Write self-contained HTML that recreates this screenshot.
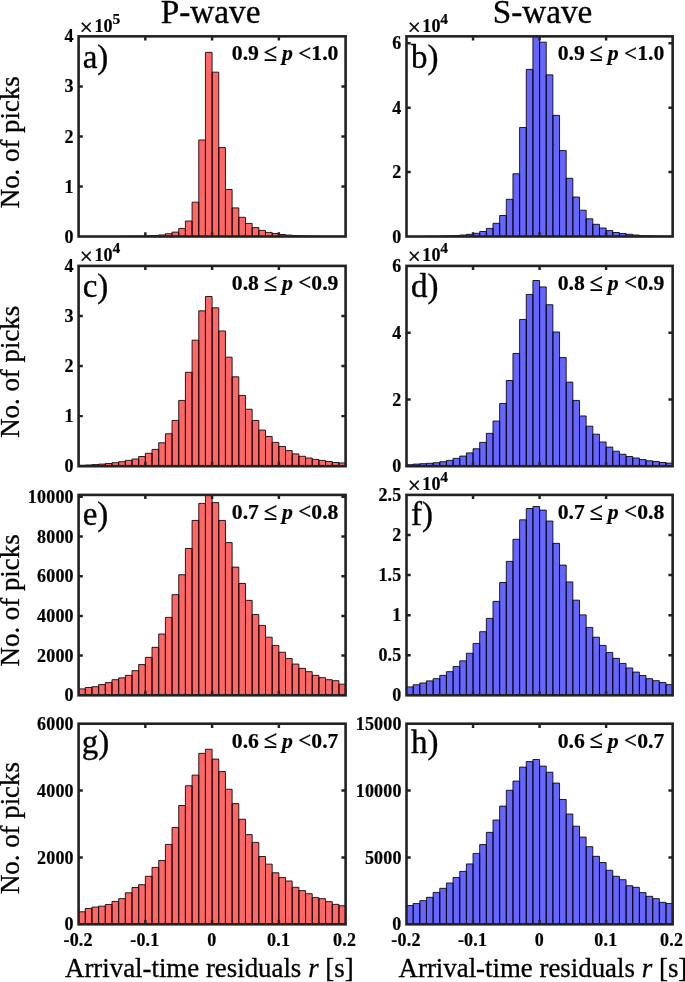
<!DOCTYPE html>
<html lang="en"><head><meta charset="utf-8"><title>Arrival-time residual histograms</title>
<style>html,body{margin:0;padding:0;background:#fff}svg{display:block;will-change:transform;opacity:0.999}text{font-family:"Liberation Serif","Times New Roman",Times,serif;fill:#000}.b{font-weight:bold}.t{font-weight:bold;font-size:18px;letter-spacing:0.2px}.an{font-weight:bold;font-size:21.7px}.lb{font-size:33px;stroke:#000;stroke-width:.35px}.ax{font-size:26.85px;stroke:#000;stroke-width:.3px}.tt{stroke:#000;stroke-width:.35px}.t,.an{stroke:#000;stroke-width:.2px}</style></head><body>
<svg width="685" height="982" viewBox="0 0 685 982">
<rect width="685" height="982" fill="#fff"/>
<text class="tt" x="210.6" y="23.2" text-anchor="middle" style="font-size:33.2px">P-wave</text>
<text class="tt" x="542.5" y="23.2" text-anchor="middle" style="font-size:33.2px">S-wave</text>
<g>
<clipPath id="cpa"><rect x="78.60" y="36.35" width="267.00" height="200.15"/></clipPath>
<path clip-path="url(#cpa)" d="M118.65 236.50V236.30H125.32V236.50ZM125.32 236.50V236.20H132.00V236.50ZM132.00 236.50V236.10H138.68V236.50ZM138.67 236.50V236.00H145.35V236.50ZM145.35 236.50V235.80H152.03V236.50ZM152.02 236.50V235.50H158.70V236.50ZM158.70 236.50V234.90H165.38V236.50ZM165.38 236.50V233.70H172.05V236.50ZM172.05 236.50V232.10H178.73V236.50ZM178.72 236.50V228.40H185.40V236.50ZM185.40 236.50V221.00H192.07V236.50ZM192.07 236.50V202.19H198.75V236.50ZM198.75 236.50V139.98H205.43V236.50ZM205.43 236.50V52.35H212.10V236.50ZM212.10 236.50V72.16H218.78V236.50ZM218.77 236.50V147.58H225.45V236.50ZM225.45 236.50V189.49H232.12V236.50ZM232.12 236.50V207.89H238.80V236.50ZM238.80 236.50V217.30H245.47V236.50ZM245.47 236.50V223.40H252.15V236.50ZM252.15 236.50V227.60H258.82V236.50ZM258.82 236.50V230.40H265.50V236.50ZM265.50 236.50V232.40H272.18V236.50ZM272.17 236.50V233.50H278.85V236.50ZM278.85 236.50V234.50H285.53V236.50ZM285.52 236.50V235.10H292.20V236.50ZM292.20 236.50V235.50H298.88V236.50ZM298.88 236.50V235.80H305.55V236.50ZM305.55 236.50V236.00H312.22V236.50ZM312.23 236.50V236.10H318.90V236.50ZM318.90 236.50V236.20H325.57V236.50ZM325.57 236.50V236.30H332.25V236.50ZM332.25 236.50V236.30H338.93V236.50ZM338.92 236.50V236.40H345.60V236.50Z" fill="#ff6666" stroke="#000" stroke-width="0.85" stroke-linejoin="miter"/>
<path d="M145.35 236.50v-4.20M145.35 36.35v4.20M212.10 236.50v-4.20M212.10 36.35v4.20M278.85 236.50v-4.20M278.85 36.35v4.20M78.60 186.46h4.20M345.60 186.46h-4.20M78.60 136.43h4.20M345.60 136.43h-4.20M78.60 86.39h4.20M345.60 86.39h-4.20" stroke="#222222" stroke-width="2.47" fill="none"/>
<rect x="78.60" y="36.35" width="267.00" height="200.15" fill="none" stroke="#222222" stroke-width="2.60"/>
<text class="t" x="73.60" y="242.60" text-anchor="end">0</text>
<text class="t" x="73.60" y="192.56" text-anchor="end">1</text>
<text class="t" x="73.60" y="142.53" text-anchor="end">2</text>
<text class="t" x="73.60" y="92.49" text-anchor="end">3</text>
<text class="t" x="73.60" y="42.45" text-anchor="end">4</text>
<text x="79.80" y="35.05" style="font-size:23px" stroke="#000" stroke-width="0.45">×</text>
<text class="t" x="94.40" y="31.85">10<tspan dx="-0.4" dy="-8.3" style="font-size:15.5px">5</tspan></text>
<text class="lb" x="82.70" y="68.05">a)</text>
<text class="an" x="338.40" y="60.15" text-anchor="end">0.9 <tspan dx="-0.6" dy="0.8" style="font-size:24.5px">≤</tspan> <tspan dx="-0.7" dy="-0.8" style="font-style:italic">p</tspan> <tspan dy="0.6" style="font-size:23px">&lt;</tspan><tspan dy="-0.6">1.0</tspan></text>
</g>
<g>
<clipPath id="cpb"><rect x="406.50" y="36.35" width="266.15" height="200.15"/></clipPath>
<path clip-path="url(#cpb)" d="M426.46 236.50V236.30H433.12V236.50ZM433.12 236.50V236.20H439.77V236.50ZM439.77 236.50V236.00H446.42V236.50ZM446.42 236.50V235.80H453.08V236.50ZM453.08 236.50V235.50H459.73V236.50ZM459.73 236.50V235.00H466.38V236.50ZM466.38 236.50V234.30H473.04V236.50ZM473.04 236.50V233.30H479.69V236.50ZM479.69 236.50V231.50H486.34V236.50ZM486.35 236.50V228.40H493.00V236.50ZM493.00 236.50V223.30H499.65V236.50ZM499.65 236.50V215.49H506.31V236.50ZM506.31 236.50V199.29H512.96V236.50ZM512.96 236.50V173.78H519.61V236.50ZM519.61 236.50V127.47H526.27V236.50ZM526.27 236.50V69.36H532.92V236.50ZM532.92 236.50V33.45H539.57V236.50ZM539.58 236.50V42.15H546.23V236.50ZM546.23 236.50V74.86H552.88V236.50ZM552.88 236.50V115.37H559.54V236.50ZM559.54 236.50V150.58H566.19V236.50ZM566.19 236.50V178.29H572.84V236.50ZM572.84 236.50V197.09H579.50V236.50ZM579.50 236.50V210.19H586.15V236.50ZM586.15 236.50V218.80H592.80V236.50ZM592.80 236.50V224.30H599.46V236.50ZM599.46 236.50V228.00H606.11V236.50ZM606.11 236.50V230.60H612.77V236.50ZM612.77 236.50V232.50H619.42V236.50ZM619.42 236.50V233.50H626.07V236.50ZM626.07 236.50V234.30H632.73V236.50ZM632.73 236.50V235.00H639.38V236.50ZM639.38 236.50V235.50H646.03V236.50ZM646.03 236.50V235.80H652.69V236.50ZM652.69 236.50V236.00H659.34V236.50ZM659.34 236.50V236.10H666.00V236.50ZM666.00 236.50V236.20H672.65V236.50Z" fill="#6666ff" stroke="#000" stroke-width="0.85" stroke-linejoin="miter"/>
<path d="M473.04 236.50v-4.20M473.04 36.35v4.20M539.58 236.50v-4.20M539.58 36.35v4.20M606.11 236.50v-4.20M606.11 36.35v4.20M406.50 172.08h4.20M672.65 172.08h-4.20M406.50 107.67h4.20M672.65 107.67h-4.20M406.50 43.25h4.20M672.65 43.25h-4.20" stroke="#222222" stroke-width="2.47" fill="none"/>
<rect x="406.50" y="36.35" width="266.15" height="200.15" fill="none" stroke="#222222" stroke-width="2.60"/>
<text class="t" x="401.50" y="242.60" text-anchor="end">0</text>
<text class="t" x="401.50" y="178.18" text-anchor="end">2</text>
<text class="t" x="401.50" y="113.77" text-anchor="end">4</text>
<text class="t" x="401.50" y="49.35" text-anchor="end">6</text>
<text x="407.70" y="35.05" style="font-size:23px" stroke="#000" stroke-width="0.45">×</text>
<text class="t" x="422.30" y="31.85">10<tspan dx="-0.4" dy="-8.3" style="font-size:15.5px">4</tspan></text>
<text class="lb" x="411.00" y="68.05">b)</text>
<text class="an" x="664.25" y="60.15" text-anchor="end">0.9 <tspan dx="-0.6" dy="0.8" style="font-size:24.5px">≤</tspan> <tspan dx="-0.7" dy="-0.8" style="font-style:italic">p</tspan> <tspan dy="0.6" style="font-size:23px">&lt;</tspan><tspan dy="-0.6">1.0</tspan></text>
</g>
<g>
<clipPath id="cpc"><rect x="78.60" y="265.90" width="267.00" height="200.30"/></clipPath>
<path clip-path="url(#cpc)" d="M78.60 466.20V465.30H85.27V466.20ZM85.27 466.20V465.00H91.95V466.20ZM91.95 466.20V464.60H98.62V466.20ZM98.62 466.20V464.10H105.30V466.20ZM105.30 466.20V463.50H111.97V466.20ZM111.97 466.20V462.70H118.65V466.20ZM118.65 466.20V461.70H125.32V466.20ZM125.32 466.20V460.39H132.00V466.20ZM132.00 466.20V458.99H138.68V466.20ZM138.67 466.20V456.49H145.35V466.20ZM145.35 466.20V453.29H152.03V466.20ZM152.02 466.20V449.38H158.70V466.20ZM158.70 466.20V442.78H165.38V466.20ZM165.38 466.20V433.77H172.05V466.20ZM172.05 466.20V420.45H178.73V466.20ZM178.72 466.20V400.43H185.40V466.20ZM185.40 466.20V372.31H192.07V466.20ZM192.07 466.20V340.17H198.75V466.20ZM198.75 466.20V310.84H205.43V466.20ZM205.43 466.20V296.53H212.10V466.20ZM212.10 466.20V307.84H218.78V466.20ZM218.77 466.20V330.96H225.45V466.20ZM225.45 466.20V357.19H232.12V466.20ZM232.12 466.20V376.81H238.80V466.20ZM238.80 466.20V395.43H245.47V466.20ZM245.47 466.20V409.24H252.15V466.20ZM252.15 466.20V420.45H258.82V466.20ZM258.82 466.20V430.06H265.50V466.20ZM265.50 466.20V436.47H272.18V466.20ZM272.17 466.20V442.38H278.85V466.20ZM278.85 466.20V446.48H285.53V466.20ZM285.52 466.20V450.58H292.20V466.20ZM292.20 466.20V453.89H298.88V466.20ZM298.88 466.20V456.29H305.55V466.20ZM305.55 466.20V457.99H312.22V466.20ZM312.23 466.20V459.39H318.90V466.20ZM318.90 466.20V460.39H325.57V466.20ZM325.57 466.20V461.50H332.25V466.20ZM332.25 466.20V462.50H338.93V466.20ZM338.92 466.20V462.90H345.60V466.20Z" fill="#ff6666" stroke="#000" stroke-width="0.85" stroke-linejoin="miter"/>
<path d="M145.35 466.20v-4.20M145.35 265.90v4.20M212.10 466.20v-4.20M212.10 265.90v4.20M278.85 466.20v-4.20M278.85 265.90v4.20M78.60 416.12h4.20M345.60 416.12h-4.20M78.60 366.05h4.20M345.60 366.05h-4.20M78.60 315.97h4.20M345.60 315.97h-4.20" stroke="#222222" stroke-width="2.47" fill="none"/>
<rect x="78.60" y="265.90" width="267.00" height="200.30" fill="none" stroke="#222222" stroke-width="2.60"/>
<text class="t" x="73.60" y="472.30" text-anchor="end">0</text>
<text class="t" x="73.60" y="422.23" text-anchor="end">1</text>
<text class="t" x="73.60" y="372.15" text-anchor="end">2</text>
<text class="t" x="73.60" y="322.07" text-anchor="end">3</text>
<text class="t" x="73.60" y="272.00" text-anchor="end">4</text>
<text x="79.80" y="263.90" style="font-size:23px" stroke="#000" stroke-width="0.45">×</text>
<text class="t" x="94.40" y="261.40">10<tspan dx="-0.4" dy="-8.9" style="font-size:15.5px">4</tspan></text>
<text class="lb" x="82.70" y="296.50">c)</text>
<text class="an" x="338.40" y="289.70" text-anchor="end">0.8 <tspan dx="-0.6" dy="0.8" style="font-size:24.5px">≤</tspan> <tspan dx="-0.7" dy="-0.8" style="font-style:italic">p</tspan> <tspan dy="0.6" style="font-size:23px">&lt;</tspan><tspan dy="-0.6">0.9</tspan></text>
</g>
<g>
<clipPath id="cpd"><rect x="406.50" y="265.90" width="266.15" height="200.30"/></clipPath>
<path clip-path="url(#cpd)" d="M406.50 466.20V464.70H413.15V466.20ZM413.15 466.20V464.10H419.81V466.20ZM419.81 466.20V463.70H426.46V466.20ZM426.46 466.20V463.30H433.12V466.20ZM433.12 466.20V462.70H439.77V466.20ZM439.77 466.20V461.70H446.42V466.20ZM446.42 466.20V460.39H453.08V466.20ZM453.08 466.20V458.39H459.73V466.20ZM459.73 466.20V456.09H466.38V466.20ZM466.38 466.20V452.89H473.04V466.20ZM473.04 466.20V448.78H479.69V466.20ZM479.69 466.20V442.38H486.34V466.20ZM486.35 466.20V433.37H493.00V466.20ZM493.00 466.20V421.05H499.65V466.20ZM499.65 466.20V403.44H506.31V466.20ZM506.31 466.20V380.51H512.96V466.20ZM512.96 466.20V353.49H519.61V466.20ZM519.61 466.20V319.45H526.27V466.20ZM526.27 466.20V294.43H532.92V466.20ZM532.92 466.20V280.51H539.57V466.20ZM539.58 466.20V286.92H546.23V466.20ZM546.23 466.20V304.74H552.88V466.20ZM552.88 466.20V331.97H559.54V466.20ZM559.54 466.20V357.59H566.19V466.20ZM566.19 466.20V382.12H572.84V466.20ZM572.84 466.20V400.43H579.50V466.20ZM579.50 466.20V415.95H586.15V466.20ZM586.15 466.20V426.16H592.80V466.20ZM592.80 466.20V434.17H599.46V466.20ZM599.46 466.20V441.98H606.11V466.20ZM606.11 466.20V447.08H612.77V466.20ZM612.77 466.20V451.19H619.42V466.20ZM619.42 466.20V454.29H626.07V466.20ZM626.07 466.20V456.49H632.73V466.20ZM632.73 466.20V457.99H639.38V466.20ZM639.38 466.20V459.59H646.03V466.20ZM646.03 466.20V460.79H652.69V466.20ZM652.69 466.20V461.50H659.34V466.20ZM659.34 466.20V462.50H666.00V466.20ZM666.00 466.20V463.10H672.65V466.20Z" fill="#6666ff" stroke="#000" stroke-width="0.85" stroke-linejoin="miter"/>
<path d="M473.04 466.20v-4.20M473.04 265.90v4.20M539.58 466.20v-4.20M539.58 265.90v4.20M606.11 466.20v-4.20M606.11 265.90v4.20M406.50 399.43h4.20M672.65 399.43h-4.20M406.50 332.67h4.20M672.65 332.67h-4.20" stroke="#222222" stroke-width="2.47" fill="none"/>
<rect x="406.50" y="265.90" width="266.15" height="200.30" fill="none" stroke="#222222" stroke-width="2.60"/>
<text class="t" x="401.50" y="472.30" text-anchor="end">0</text>
<text class="t" x="401.50" y="405.53" text-anchor="end">2</text>
<text class="t" x="401.50" y="338.77" text-anchor="end">4</text>
<text class="t" x="401.50" y="272.00" text-anchor="end">6</text>
<text x="407.70" y="263.90" style="font-size:23px" stroke="#000" stroke-width="0.45">×</text>
<text class="t" x="422.30" y="261.40">10<tspan dx="-0.4" dy="-8.9" style="font-size:15.5px">4</tspan></text>
<text class="lb" x="411.00" y="296.50">d)</text>
<text class="an" x="664.25" y="289.70" text-anchor="end">0.8 <tspan dx="-0.6" dy="0.8" style="font-size:24.5px">≤</tspan> <tspan dx="-0.7" dy="-0.8" style="font-style:italic">p</tspan> <tspan dy="0.6" style="font-size:23px">&lt;</tspan><tspan dy="-0.6">0.9</tspan></text>
</g>
<g>
<clipPath id="cpe"><rect x="78.60" y="494.90" width="267.00" height="200.40"/></clipPath>
<path clip-path="url(#cpe)" d="M78.60 695.30V688.89H85.27V695.30ZM85.27 695.30V687.49H91.95V695.30ZM91.95 695.30V686.69H98.62V695.30ZM98.62 695.30V684.58H105.30V695.30ZM105.30 695.30V682.58H111.97V695.30ZM111.97 695.30V679.68H118.65V695.30ZM118.65 695.30V677.87H125.32V695.30ZM125.32 695.30V675.37H132.00V695.30ZM132.00 695.30V670.66H138.68V695.30ZM138.67 695.30V664.55H145.35V695.30ZM145.35 695.30V657.34H152.03V695.30ZM152.02 695.30V647.33H158.70V695.30ZM158.70 695.30V634.01H165.38V695.30ZM165.38 695.30V617.38H172.05V695.30ZM172.05 695.30V594.65H178.73V695.30ZM178.72 695.30V574.72H185.40V695.30ZM185.40 695.30V548.48H192.07V695.30ZM192.07 695.30V520.44H198.75V695.30ZM198.75 695.30V503.41H205.43V695.30ZM205.43 695.30V494.90H212.10V695.30ZM212.10 695.30V502.61H218.78V695.30ZM218.77 695.30V520.44H225.45V695.30ZM225.45 695.30V542.57H232.12V695.30ZM232.12 695.30V567.11H238.80V695.30ZM238.80 695.30V583.53H245.47V695.30ZM245.47 695.30V600.36H252.15V695.30ZM252.15 695.30V614.48H258.82V695.30ZM258.82 695.30V625.40H265.50V695.30ZM265.50 695.30V637.21H272.18V695.30ZM272.17 695.30V645.43H278.85V695.30ZM278.85 695.30V652.24H285.53V695.30ZM285.52 695.30V658.54H292.20V695.30ZM292.20 695.30V664.05H298.88V695.30ZM298.88 695.30V668.36H305.55V695.30ZM305.55 695.30V671.66H312.22V695.30ZM312.23 695.30V675.37H318.90V695.30ZM318.90 695.30V677.67H325.57V695.30ZM325.57 695.30V679.68H332.25V695.30ZM332.25 695.30V680.68H338.93V695.30ZM338.92 695.30V684.18H345.60V695.30Z" fill="#ff6666" stroke="#000" stroke-width="0.85" stroke-linejoin="miter"/>
<path d="M145.35 695.30v-4.20M145.35 494.90v4.20M212.10 695.30v-4.20M212.10 494.90v4.20M278.85 695.30v-4.20M278.85 494.90v4.20M78.60 655.60h4.20M345.60 655.60h-4.20M78.60 615.90h4.20M345.60 615.90h-4.20M78.60 576.20h4.20M345.60 576.20h-4.20M78.60 536.50h4.20M345.60 536.50h-4.20M78.60 496.80h4.20M345.60 496.80h-4.20" stroke="#222222" stroke-width="2.47" fill="none"/>
<rect x="78.60" y="494.90" width="267.00" height="200.40" fill="none" stroke="#222222" stroke-width="2.60"/>
<text class="t" x="73.60" y="701.40" text-anchor="end">0</text>
<text class="t" x="73.80" y="661.70" text-anchor="end">2000</text>
<text class="t" x="73.80" y="622.00" text-anchor="end">4000</text>
<text class="t" x="73.80" y="582.30" text-anchor="end">6000</text>
<text class="t" x="73.80" y="542.60" text-anchor="end">8000</text>
<text class="t" x="73.80" y="502.90" text-anchor="end">10000</text>
<text class="lb" x="82.70" y="525.10">e)</text>
<text class="an" x="338.40" y="518.70" text-anchor="end">0.7 <tspan dx="-0.6" dy="0.8" style="font-size:24.5px">≤</tspan> <tspan dx="-0.7" dy="-0.8" style="font-style:italic">p</tspan> <tspan dy="0.6" style="font-size:23px">&lt;</tspan><tspan dy="-0.6">0.8</tspan></text>
</g>
<g>
<clipPath id="cpf"><rect x="406.50" y="494.90" width="266.15" height="200.40"/></clipPath>
<path clip-path="url(#cpf)" d="M406.50 695.30V686.89H413.15V695.30ZM413.15 695.30V684.78H419.81V695.30ZM419.81 695.30V682.98H426.46V695.30ZM426.46 695.30V680.88H433.12V695.30ZM433.12 695.30V678.68H439.77V695.30ZM439.77 695.30V675.37H446.42V695.30ZM446.42 695.30V671.66H453.08V695.30ZM453.08 695.30V666.56H459.73V695.30ZM459.73 695.30V660.85H466.38V695.30ZM466.38 695.30V653.24H473.04V695.30ZM473.04 695.30V643.42H479.69V695.30ZM479.69 695.30V631.70H486.34V695.30ZM486.35 695.30V618.38H493.00V695.30ZM493.00 695.30V601.36H499.65V695.30ZM499.65 695.30V582.53H506.31V695.30ZM506.31 695.30V561.40H512.96V695.30ZM512.96 695.30V539.27H519.61V695.30ZM519.61 695.30V519.84H526.27V695.30ZM526.27 695.30V508.52H532.92V695.30ZM532.92 695.30V506.52H539.57V695.30ZM539.58 695.30V510.12H546.23V695.30ZM546.23 695.30V521.04H552.88V695.30ZM552.88 695.30V543.37H559.54V695.30ZM559.54 695.30V565.11H566.19V695.30ZM566.19 695.30V581.93H572.84V695.30ZM572.84 695.30V600.16H579.50V695.30ZM579.50 695.30V614.88H586.15V695.30ZM586.15 695.30V627.40H592.80V695.30ZM592.80 695.30V637.21H599.46V695.30ZM599.46 695.30V645.43H606.11V695.30ZM606.11 695.30V652.44H612.77V695.30ZM612.77 695.30V658.34H619.42V695.30ZM619.42 695.30V663.45H626.07V695.30ZM626.07 695.30V667.96H632.73V695.30ZM632.73 695.30V672.07H639.38V695.30ZM639.38 695.30V675.57H646.03V695.30ZM646.03 695.30V678.68H652.69V695.30ZM652.69 695.30V680.68H659.34V695.30ZM659.34 695.30V682.58H666.00V695.30ZM666.00 695.30V684.58H672.65V695.30Z" fill="#6666ff" stroke="#000" stroke-width="0.85" stroke-linejoin="miter"/>
<path d="M473.04 695.30v-4.20M473.04 494.90v4.20M539.58 695.30v-4.20M539.58 494.90v4.20M606.11 695.30v-4.20M606.11 494.90v4.20M406.50 655.22h4.20M672.65 655.22h-4.20M406.50 615.14h4.20M672.65 615.14h-4.20M406.50 575.06h4.20M672.65 575.06h-4.20M406.50 534.98h4.20M672.65 534.98h-4.20" stroke="#222222" stroke-width="2.47" fill="none"/>
<rect x="406.50" y="494.90" width="266.15" height="200.40" fill="none" stroke="#222222" stroke-width="2.60"/>
<text class="t" x="401.50" y="701.40" text-anchor="end">0</text>
<text class="t" x="401.50" y="661.32" text-anchor="end">0.5</text>
<text class="t" x="401.50" y="621.24" text-anchor="end">1</text>
<text class="t" x="401.50" y="581.16" text-anchor="end">1.5</text>
<text class="t" x="401.50" y="541.08" text-anchor="end">2</text>
<text class="t" x="401.50" y="501.00" text-anchor="end">2.5</text>
<text x="407.70" y="492.90" style="font-size:23px" stroke="#000" stroke-width="0.45">×</text>
<text class="t" x="422.30" y="490.40">10<tspan dx="-0.4" dy="-8.9" style="font-size:15.5px">4</tspan></text>
<text class="lb" x="411.00" y="525.10">f)</text>
<text class="an" x="664.25" y="518.70" text-anchor="end">0.7 <tspan dx="-0.6" dy="0.8" style="font-size:24.5px">≤</tspan> <tspan dx="-0.7" dy="-0.8" style="font-style:italic">p</tspan> <tspan dy="0.6" style="font-size:23px">&lt;</tspan><tspan dy="-0.6">0.8</tspan></text>
</g>
<g>
<clipPath id="cpg"><rect x="78.60" y="723.70" width="267.00" height="200.60"/></clipPath>
<path clip-path="url(#cpg)" d="M78.60 924.30V911.77H85.27V924.30ZM85.27 924.30V908.46H91.95V924.30ZM91.95 924.30V907.06H98.62V924.30ZM98.62 924.30V906.15H105.30V924.30ZM105.30 924.30V904.55H111.97V924.30ZM111.97 924.30V901.44H118.65V924.30ZM118.65 924.30V898.64H125.32V924.30ZM125.32 924.30V892.82H132.00V924.30ZM132.00 924.30V887.51H138.68V924.30ZM138.67 924.30V884.70H145.35V924.30ZM145.35 924.30V876.28H152.03V924.30ZM152.02 924.30V867.46H158.70V924.30ZM158.70 924.30V860.44H165.38V924.30ZM165.38 924.30V844.40H172.05V924.30ZM172.05 924.30V827.46H178.73V924.30ZM178.72 924.30V805.50H185.40V924.30ZM185.40 924.30V785.75H192.07V924.30ZM192.07 924.30V775.13H198.75V924.30ZM198.75 924.30V753.37H205.43V924.30ZM205.43 924.30V749.26H212.10V924.30ZM212.10 924.30V759.09H218.78V924.30ZM218.77 924.30V771.62H225.45V924.30ZM225.45 924.30V789.26H232.12V924.30ZM232.12 924.30V803.60H238.80V924.30ZM238.80 924.30V819.24H245.47V924.30ZM245.47 924.30V834.58H252.15V924.30ZM252.15 924.30V842.40H258.82V924.30ZM258.82 924.30V856.53H265.50V924.30ZM265.50 924.30V864.15H272.18V924.30ZM272.17 924.30V872.77H278.85V924.30ZM278.85 924.30V877.48H285.53V924.30ZM285.52 924.30V880.99H292.20V924.30ZM292.20 924.30V887.31H298.88V924.30ZM298.88 924.30V890.62H305.55V924.30ZM305.55 924.30V893.72H312.22V924.30ZM312.23 924.30V897.63H318.90V924.30ZM318.90 924.30V898.64H325.57V924.30ZM325.57 924.30V901.64H332.25V924.30ZM332.25 924.30V904.35H338.93V924.30ZM338.92 924.30V905.75H345.60V924.30Z" fill="#ff6666" stroke="#000" stroke-width="0.85" stroke-linejoin="miter"/>
<path d="M145.35 924.30v-4.20M145.35 723.70v4.20M212.10 924.30v-4.20M212.10 723.70v4.20M278.85 924.30v-4.20M278.85 723.70v4.20M78.60 857.43h4.20M345.60 857.43h-4.20M78.60 790.57h4.20M345.60 790.57h-4.20" stroke="#222222" stroke-width="2.47" fill="none"/>
<rect x="78.60" y="723.70" width="267.00" height="200.60" fill="none" stroke="#222222" stroke-width="2.60"/>
<text class="t" x="73.60" y="930.40" text-anchor="end">0</text>
<text class="t" x="73.80" y="863.53" text-anchor="end">2000</text>
<text class="t" x="73.80" y="796.67" text-anchor="end">4000</text>
<text class="t" x="73.80" y="729.80" text-anchor="end">6000</text>
<text class="lb" x="81.70" y="752.70">g)</text>
<text class="an" x="338.40" y="747.50" text-anchor="end">0.6 <tspan dx="-0.6" dy="0.8" style="font-size:24.5px">≤</tspan> <tspan dx="-0.7" dy="-0.8" style="font-style:italic">p</tspan> <tspan dy="0.6" style="font-size:23px">&lt;</tspan><tspan dy="-0.6">0.7</tspan></text>
</g>
<g>
<clipPath id="cph"><rect x="406.50" y="723.70" width="266.15" height="200.60"/></clipPath>
<path clip-path="url(#cph)" d="M406.50 924.30V905.55H413.15V924.30ZM413.15 924.30V903.55H419.81V924.30ZM419.81 924.30V900.64H426.46V924.30ZM426.46 924.30V897.33H433.12V924.30ZM433.12 924.30V892.42H439.77V924.30ZM439.77 924.30V888.31H446.42V924.30ZM446.42 924.30V883.00H453.08V924.30ZM453.08 924.30V877.48H459.73V924.30ZM459.73 924.30V871.37H466.38V924.30ZM466.38 924.30V863.95H473.04V924.30ZM473.04 924.30V853.42H479.69V924.30ZM479.69 924.30V844.60H486.34V924.30ZM486.35 924.30V832.37H493.00V924.30ZM493.00 924.30V820.04H499.65V924.30ZM499.65 924.30V806.11H506.31V924.30ZM506.31 924.30V790.27H512.96V924.30ZM512.96 924.30V781.04H519.61V924.30ZM519.61 924.30V767.11H526.27V924.30ZM526.27 924.30V761.59H532.92V924.30ZM532.92 924.30V759.49H539.57V924.30ZM539.58 924.30V766.11H546.23V924.30ZM546.23 924.30V772.22H552.88V924.30ZM552.88 924.30V783.05H559.54V924.30ZM559.54 924.30V799.49H566.19V924.30ZM566.19 924.30V814.03H572.84V924.30ZM572.84 924.30V826.16H579.50V924.30ZM579.50 924.30V837.08H586.15V924.30ZM586.15 924.30V846.71H592.80V924.30ZM592.80 924.30V856.33H599.46V924.30ZM599.46 924.30V862.55H606.11V924.30ZM606.11 924.30V870.27H612.77V924.30ZM612.77 924.30V876.28H619.42V924.30ZM619.42 924.30V879.69H626.07V924.30ZM626.07 924.30V885.70H632.73V924.30ZM632.73 924.30V887.31H639.38V924.30ZM639.38 924.30V892.62H646.03V924.30ZM646.03 924.30V896.33H652.69V924.30ZM652.69 924.30V898.64H659.34V924.30ZM659.34 924.30V902.35H666.00V924.30ZM666.00 924.30V903.55H672.65V924.30Z" fill="#6666ff" stroke="#000" stroke-width="0.85" stroke-linejoin="miter"/>
<path d="M473.04 924.30v-4.20M473.04 723.70v4.20M539.58 924.30v-4.20M539.58 723.70v4.20M606.11 924.30v-4.20M606.11 723.70v4.20M406.50 857.43h4.20M672.65 857.43h-4.20M406.50 790.57h4.20M672.65 790.57h-4.20" stroke="#222222" stroke-width="2.47" fill="none"/>
<rect x="406.50" y="723.70" width="266.15" height="200.60" fill="none" stroke="#222222" stroke-width="2.60"/>
<text class="t" x="401.50" y="930.40" text-anchor="end">0</text>
<text class="t" x="401.70" y="863.53" text-anchor="end">5000</text>
<text class="t" x="401.70" y="796.67" text-anchor="end">10000</text>
<text class="t" x="401.70" y="729.80" text-anchor="end">15000</text>
<text class="lb" x="411.00" y="752.70">h)</text>
<text class="an" x="664.25" y="747.50" text-anchor="end">0.6 <tspan dx="-0.6" dy="0.8" style="font-size:24.5px">≤</tspan> <tspan dx="-0.7" dy="-0.8" style="font-style:italic">p</tspan> <tspan dy="0.6" style="font-size:23px">&lt;</tspan><tspan dy="-0.6">0.7</tspan></text>
</g>
<text class="t" x="78.10" y="945.70" text-anchor="middle">-0.2</text>
<text class="t" x="144.85" y="945.70" text-anchor="middle">-0.1</text>
<text class="t" x="211.90" y="945.70" text-anchor="middle">0</text>
<text class="t" x="278.65" y="945.70" text-anchor="middle">0.1</text>
<text class="t" x="344.60" y="945.70" text-anchor="middle">0.2</text>
<text class="t" x="406.00" y="945.70" text-anchor="middle">-0.2</text>
<text class="t" x="472.54" y="945.70" text-anchor="middle">-0.1</text>
<text class="t" x="539.38" y="945.70" text-anchor="middle">0</text>
<text class="t" x="605.91" y="945.70" text-anchor="middle">0.1</text>
<text class="t" x="671.65" y="945.70" text-anchor="middle">0.2</text>
<text class="ax" x="65.0" y="977.1">Arrival-time residuals <tspan dx="0.2" style="font-style:italic">r</tspan> [s]</text>
<text class="ax" x="398.6" y="977.1">Arrival-time residuals <tspan dx="0.2" style="font-style:italic">r</tspan> [s]</text>
<text class="ax" text-anchor="middle" transform="translate(19.3 142.2) rotate(-90)">No. of picks</text>
<text class="ax" text-anchor="middle" transform="translate(19.3 371.8) rotate(-90)">No. of picks</text>
<text class="ax" text-anchor="middle" transform="translate(19.3 600.4) rotate(-90)">No. of picks</text>
<text class="ax" text-anchor="middle" transform="translate(19.3 828.1) rotate(-90)">No. of picks</text>
</svg></body></html>
